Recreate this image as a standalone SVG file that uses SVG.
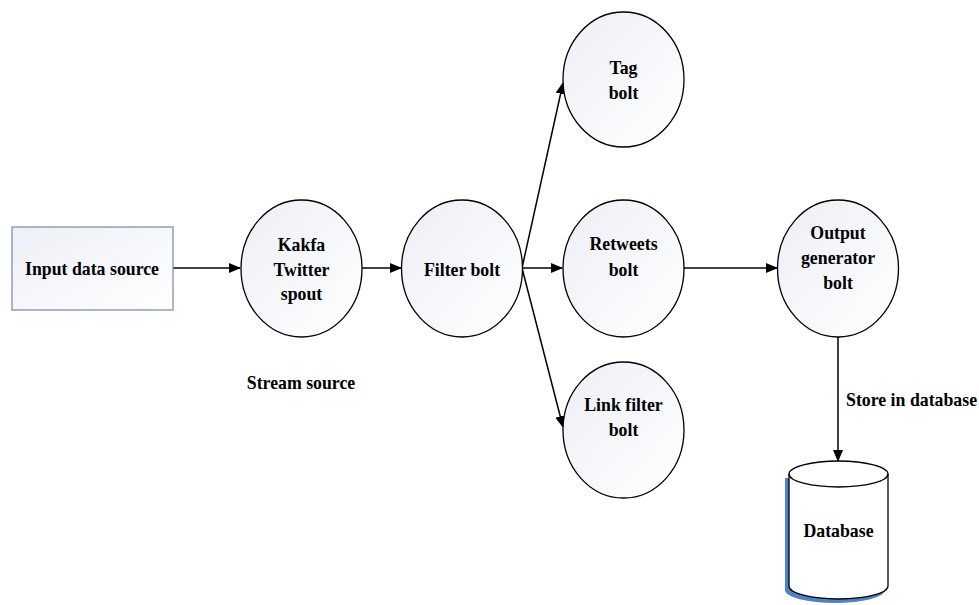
<svg xmlns="http://www.w3.org/2000/svg" width="979" height="605" viewBox="0 0 979 605">
<style>
.n{stroke:#000;stroke-width:1.3;fill:url(#g)}
.t{font-family:"Liberation Serif",serif;font-weight:bold;font-size:17.8px;text-anchor:middle;dominant-baseline:central;fill:#000}
.c{stroke:#000;stroke-width:1.5;fill:none;marker-end:url(#a)}
</style>
<defs>
<linearGradient id="g" x1="0" y1="0" x2="1" y2="1">
<stop offset="0" stop-color="#eceff6"/>
<stop offset="1" stop-color="#ffffff"/>
</linearGradient>
<marker id="a" markerWidth="12" markerHeight="10" refX="11" refY="5" orient="auto" markerUnits="userSpaceOnUse">
<path d="M0,0 L12,5 L0,10 Z" fill="#000"/>
</marker>
</defs>
<rect width="979" height="605" fill="#fff"/>
<g id="connectors">
<line class="c" x1="173" y1="268" x2="240" y2="268"/>
<line class="c" x1="362" y1="268" x2="401" y2="268"/>
<line class="c" x1="522" y1="268" x2="562" y2="268"/>
<line class="c" x1="522" y1="268" x2="563" y2="83"/>
<line class="c" x1="522" y1="268" x2="563" y2="427"/>
<line class="c" x1="684" y1="268" x2="777" y2="268"/>
<line class="c" x1="838" y1="337" x2="838" y2="461"/>
</g>
<g id="input">
<rect x="12" y="227" width="161" height="83" fill="url(#g)" stroke="#7d93ab" stroke-width="1.3"/>
<text class="t" x="92" y="269">Input data source</text>
</g>
<g id="kakfa">
<ellipse class="n" cx="301.5" cy="268.5" rx="60.5" ry="68.5"/>
<text class="t" x="301.5" y="245">Kakfa</text>
<text class="t" x="301.5" y="270">Twitter</text>
<text class="t" x="301.5" y="294">spout</text>
</g>
<text id="stream" class="t" x="301" y="383">Stream source</text>
<g id="filter">
<ellipse class="n" cx="462" cy="268.5" rx="60.5" ry="68.5"/>
<text class="t" x="462" y="270">Filter bolt</text>
</g>
<g id="tag">
<ellipse class="n" cx="623.5" cy="79.5" rx="60.5" ry="67.5"/>
<text class="t" x="623.5" y="68">Tag</text>
<text class="t" x="623.5" y="93">bolt</text>
</g>
<g id="retweets">
<ellipse class="n" cx="623.5" cy="268.5" rx="60.5" ry="68.5"/>
<text class="t" x="623.5" y="244">Retweets</text>
<text class="t" x="623.5" y="270">bolt</text>
</g>
<g id="link">
<ellipse class="n" cx="623.5" cy="430" rx="60.5" ry="68"/>
<text class="t" x="623.5" y="405">Link filter</text>
<text class="t" x="623.5" y="430">bolt</text>
</g>
<g id="output">
<ellipse class="n" cx="838" cy="268.5" rx="60.5" ry="68.5"/>
<text class="t" x="838" y="233">Output</text>
<text class="t" x="838" y="258">generator</text>
<text class="t" x="838" y="283">bolt</text>
</g>
<text id="store" class="t" x="846" y="400" style="text-anchor:start">Store in database</text>
<g id="database">
<path d="M785,478 L785,590 A50,13 0 0 0 885,590 L885,478 Z" fill="#4f81c7"/>
<path d="M789,474 L789,586 A49.5,13 0 0 0 888,586 L888,474 A49.5,13 0 0 0 789,474 Z" fill="#fff" stroke="#000" stroke-width="1.3"/>
<path d="M789,474 A49.5,13 0 0 0 888,474" fill="none" stroke="#000" stroke-width="1.3"/>
<text class="t" x="838.5" y="531">Database</text>
</g>
</svg>
